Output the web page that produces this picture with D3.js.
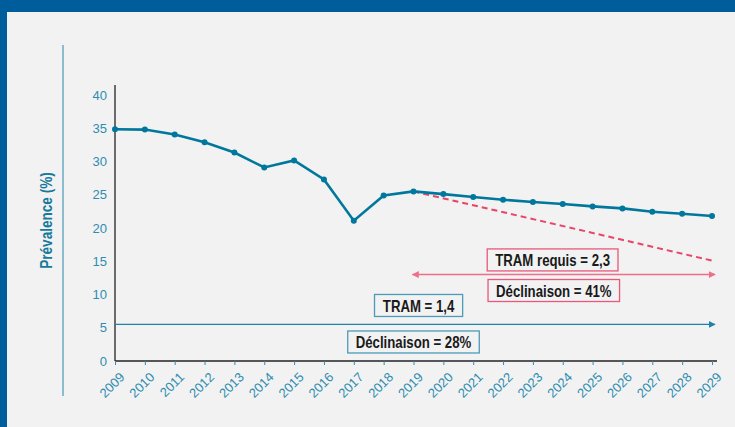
<!DOCTYPE html>
<html>
<head>
<meta charset="utf-8">
<script src="https://cdn.jsdelivr.net/npm/d3@7"></script>
<style>
  body { margin: 0; background: #f2f2f2; }
  svg { display: block; }
  .tick text { font-family: "Liberation Sans", Arial, sans-serif; font-size: 13px; fill: #2e8db0; }
  .note { font-family: "Liberation Sans", Arial, sans-serif; font-weight: bold; font-size: 16.5px; fill: #1a1a1a; }
</style>
</head>
<body>
<svg id="chart"></svg>
<script>
const years = d3.range(2009, 2030);
const prevalence = [34.85, 34.8, 34.05, 32.9, 31.35, 29.1, 30.15, 27.3, 21.1, 24.9, 25.5,
  25.1, 24.65, 24.25, 23.9, 23.6, 23.25, 22.95, 22.45, 22.15, 21.8];
const yTicks = [0, 5, 10, 15, 20, 25, 30, 35, 40];
const targetLine = [{ year: 2019, value: 25.5 }, { year: 2029, value: 15.1 }];
const requiredSpan = [2019, 2029];
const observedSpan = [2009, 2029];
const notes = [
  { text: 'TRAM requis = 2,3', year: 2023.66, value: 15.2, kind: 'red' },
  { text: 'Déclinaison = 41%', year: 2023.7, value: 10.6, kind: 'red' },
  { text: 'TRAM = 1,4', year: 2019.17, value: 8.35, kind: 'blue' },
  { text: 'Déclinaison = 28%', year: 2019.0, value: 2.86, kind: 'blue' }
];

const w = 735, h = 427;
const condense = 0.8;
const svg = d3.select('#chart').attr('width', w).attr('height', h);

// frame
svg.append('rect').attr('width', w).attr('height', h).attr('fill', '#f2f2f2');
svg.append('rect').attr('width', w).attr('height', 12).attr('fill', '#005d9b');
svg.append('rect').attr('width', 7).attr('height', h).attr('fill', '#005d9b');

let xScale = d3.scaleLinear().domain([2009, 2029]).range([115, 712]);
let yScale = d3.scaleLinear().domain([0, 40]).range([361, 95]);

const defs = svg.append('defs');
function marker(id, color, orient) {
  defs.append('marker')
    .attr('id', id)
    .attr('viewBox', '0 0 10 10')
    .attr('refX', 9).attr('refY', 5)
    .attr('markerWidth', 7).attr('markerHeight', 7)
    .attr('markerUnits', 'userSpaceOnUse')
    .attr('orient', orient)
    .append('path')
    .attr('d', 'M0,0 L10,5 L0,10 z')
    .attr('fill', color);
}
marker('redArrow', '#ee6f8c', 'auto-start-reverse');
marker('blueArrow', '#1f82a8', 'auto');

// y label and separator
svg.append('line')
  .attr('x1', 63).attr('x2', 63).attr('y1', 45).attr('y2', 396)
  .attr('stroke', '#6aaac0').attr('stroke-width', 1.5);
svg.append('text')
  .attr('transform', `translate(52, ${(45 + 396) / 2}) rotate(-90) scale(${condense},1)`)
  .attr('text-anchor', 'middle')
  .attr('font-family', '"Liberation Sans", Arial, sans-serif')
  .attr('font-weight', 'bold').attr('font-size', 17)
  .attr('fill', '#17799c')
  .text('Prévalence (%)');

// axes
const yAxis = svg.append('g')
  .attr('transform', `translate(${xScale(2009)},0)`)
  .call(d3.axisLeft(yScale).tickValues(yTicks).tickSize(0).tickPadding(8));
yAxis.select('.domain').attr('stroke', '#222').attr('stroke-width', 1.3)
  .attr('d', `M0,${yScale(0)}V${yScale(0) - 276}`);

const xAxis = svg.append('g')
  .attr('transform', `translate(0,${yScale(0)})`)
  .call(d3.axisBottom(xScale).tickValues(years).tickFormat(d3.format('d')).tickSize(4).tickSizeOuter(0));
xAxis.select('.domain').attr('stroke', '#222').attr('stroke-width', 1.3)
  .attr('d', `M${xScale(2009)},0H${xScale(2029) + 5}`);
xAxis.selectAll('.tick line').attr('stroke', '#2e8db0');
xAxis.selectAll('.tick text')
  .attr('text-anchor', 'end')
  .attr('dy', 0)
  .attr('transform', 'translate(5,12) rotate(-45)');

// observed arrow (blue)
svg.append('line')
  .attr('x1', xScale(observedSpan[0])).attr('x2', xScale(observedSpan[1]) + 3)
  .attr('y1', yScale(5.5)).attr('y2', yScale(5.5))
  .attr('stroke', '#1f82a8').attr('stroke-width', 1.2)
  .attr('marker-end', 'url(#blueArrow)');

// required arrow (red, both ends)
svg.append('line')
  .attr('x1', xScale(requiredSpan[0]) - 1).attr('x2', xScale(requiredSpan[1]) + 3)
  .attr('y1', yScale(13)).attr('y2', yScale(13))
  .attr('stroke', '#ee6f8c').attr('stroke-width', 1.5)
  .attr('marker-start', 'url(#redArrow)')
  .attr('marker-end', 'url(#redArrow)');

// target dashed line
svg.append('path')
  .datum(targetLine)
  .attr('fill', 'none')
  .attr('stroke', '#e8456b').attr('stroke-width', 2)
  .attr('stroke-dasharray', '6,4')
  .attr('d', d3.line().x(d => xScale(d.year)).y(d => yScale(d.value)));

// prevalence line
const series = years.map((y, i) => ({ year: y, value: prevalence[i] }));
svg.append('path')
  .datum(series)
  .attr('fill', 'none')
  .attr('stroke', '#00779c').attr('stroke-width', 2.6)
  .attr('d', d3.line().x(d => xScale(d.year)).y(d => yScale(d.value)));
svg.selectAll('.dot')
  .data(series)
  .enter()
  .append('circle')
  .attr('cx', d => xScale(d.year))
  .attr('cy', d => yScale(d.value))
  .attr('r', 3)
  .attr('fill', '#00779c');

// annotation boxes (text squeezed horizontally to look condensed)
notes.forEach(n => {
  const cx = xScale(n.year), cy = yScale(n.value);
  const g = svg.append('g');
  const rect = g.append('rect');
  const t = g.append('text')
    .attr('class', 'note')
    .attr('transform', `translate(${cx},${cy}) scale(${condense},1)`)
    .attr('text-anchor', 'middle')
    .attr('dominant-baseline', 'central')
    .text(n.text);
  const b = t.node().getBBox();
  const bw = b.width * condense;
  rect.attr('x', cx - bw / 2 - 8).attr('y', cy - 11)
    .attr('width', bw + 16).attr('height', 22)
    .attr('fill', '#f2f2f2')
    .attr('stroke', n.kind === 'red' ? '#e8587a' : '#4b9bb9')
    .attr('stroke-width', 1.3);
});
</script>
</body>
</html>
